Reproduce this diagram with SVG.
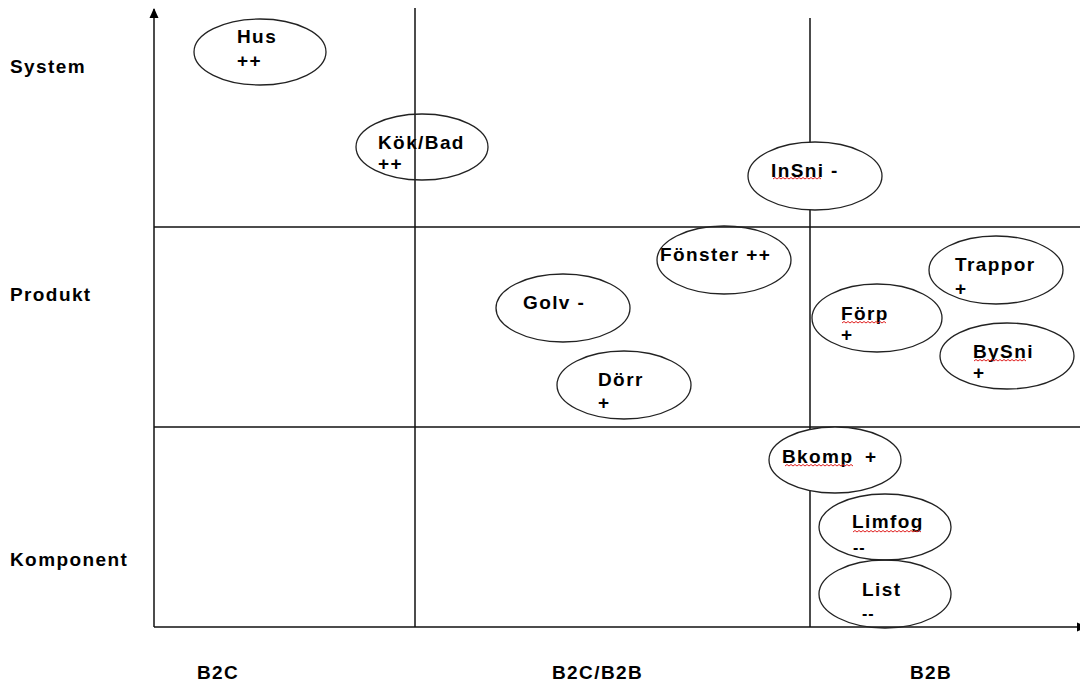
<svg xmlns="http://www.w3.org/2000/svg" width="1080" height="684" viewBox="0 0 1080 684">
<style>
  .ln { stroke:#111; stroke-width:1.5; fill:none; }
  .el { stroke:#222; stroke-width:1.3; fill:none; }
  .elw { stroke:#222; stroke-width:1.3; fill:#fff; }
  text { font-family:"Liberation Sans", Arial, sans-serif; font-weight:bold; font-size:19px; letter-spacing:1.4px; fill:#000; }
  .sm { font-size:16px; letter-spacing:1px; }
  .sq { stroke:#e02020; stroke-width:1; fill:none; }
</style>
<defs>
  <marker id="arr" markerWidth="10" markerHeight="10" refX="9" refY="5" orient="auto" markerUnits="userSpaceOnUse">
    <path d="M0,0.5 L10,5 L0,9.5 Z" fill="#000"/>
  </marker>
</defs>
<g id="axes">
  <line class="ln" x1="154" y1="627" x2="154" y2="9" marker-end="url(#arr)"/>
  <line class="ln" x1="154" y1="627" x2="1086" y2="627" marker-end="url(#arr)"/>
  <line class="ln" x1="415" y1="8" x2="415" y2="627"/>
  <line class="ln" x1="810" y1="18" x2="810" y2="627"/>
  <line class="ln" x1="154" y1="227" x2="1080" y2="227"/>
  <line class="ln" x1="154" y1="427" x2="1080" y2="427"/>
</g>
<g id="axis-labels">
  <text x="10" y="73">System</text>
  <text x="10" y="301">Produkt</text>
  <text x="10" y="566">Komponent</text>
  <text x="197" y="679">B2C</text>
  <text x="552" y="679">B2C/B2B</text>
  <text x="910" y="679">B2B</text>
</g>
<g id="node-hus">
  <ellipse class="el" cx="260" cy="52" rx="66" ry="33"/>
  <text x="237" y="43">Hus</text>
  <text x="237" y="67">++</text>
</g>
<g id="node-kokbad">
  <ellipse class="el" cx="422" cy="147" rx="66" ry="33"/>
  <text x="378" y="149">Kök/Bad</text>
  <text x="378" y="170">++</text>
</g>
<g id="node-insni">
  <ellipse class="elw" cx="815" cy="176" rx="67" ry="34"/>
  <text x="771" y="177">InSni -</text>
  <path class="sq" d="M773,179 l2,-1.5 l2,1.5 l2,-1.5 l2,1.5 l2,-1.5 l2,1.5 l2,-1.5 l2,1.5 l2,-1.5 l2,1.5 l2,-1.5 l2,1.5 l2,-1.5 l2,1.5 l2,-1.5 l2,1.5 l2,-1.5 l2,1.5 l2,-1.5 l2,1.5 l2,-1.5 l2,1.5 l2,-1.5 l2,1.5"/>
</g>
<g id="node-fonster">
  <ellipse class="el" cx="724" cy="260" rx="67" ry="34"/>
  <text x="660" y="261">Fönster ++</text>
</g>
<g id="node-trappor">
  <ellipse class="el" cx="996" cy="270" rx="67" ry="34"/>
  <text x="955" y="271">Trappor</text>
  <text x="955" y="295">+</text>
</g>
<g id="node-forp">
  <ellipse class="el" cx="877" cy="318" rx="65" ry="34"/>
  <text x="841" y="320">Förp</text>
  <path class="sq" d="M842,323 l2,-1.5 l2,1.5 l2,-1.5 l2,1.5 l2,-1.5 l2,1.5 l2,-1.5 l2,1.5 l2,-1.5 l2,1.5 l2,-1.5 l2,1.5 l2,-1.5 l2,1.5 l2,-1.5 l2,1.5 l2,-1.5 l2,1.5 l2,-1.5 l2,1.5 l2,-1.5 l2,1.5"/>
  <text x="841" y="341">+</text>
</g>
<g id="node-bysni">
  <ellipse class="el" cx="1007" cy="356" rx="67" ry="33"/>
  <text x="973" y="358">BySni</text>
  <path class="sq" d="M974,361 l2,-1.5 l2,1.5 l2,-1.5 l2,1.5 l2,-1.5 l2,1.5 l2,-1.5 l2,1.5 l2,-1.5 l2,1.5 l2,-1.5 l2,1.5 l2,-1.5 l2,1.5 l2,-1.5 l2,1.5 l2,-1.5 l2,1.5 l2,-1.5 l2,1.5 l2,-1.5 l2,1.5 l2,-1.5 l2,1.5 l2,-1.5 l2,1.5"/>
  <text x="973" y="379">+</text>
</g>
<g id="node-golv">
  <ellipse class="el" cx="563" cy="308" rx="67" ry="34"/>
  <text x="523" y="309">Golv -</text>
</g>
<g id="node-dorr">
  <ellipse class="el" cx="624" cy="385" rx="67" ry="34"/>
  <text x="598" y="386">Dörr</text>
  <text x="598" y="409">+</text>
</g>
<g id="node-bkomp">
  <ellipse class="elw" cx="835" cy="460" rx="66" ry="33"/>
  <text x="782" y="463">Bkomp</text>
  <text x="865" y="463">+</text>
  <path class="sq" d="M785,466 l2,-1.5 l2,1.5 l2,-1.5 l2,1.5 l2,-1.5 l2,1.5 l2,-1.5 l2,1.5 l2,-1.5 l2,1.5 l2,-1.5 l2,1.5 l2,-1.5 l2,1.5 l2,-1.5 l2,1.5 l2,-1.5 l2,1.5 l2,-1.5 l2,1.5 l2,-1.5 l2,1.5 l2,-1.5 l2,1.5 l2,-1.5 l2,1.5 l2,-1.5 l2,1.5 l2,-1.5 l2,1.5 l2,-1.5 l2,1.5 l2,-1.5 l2,1.5"/>
</g>
<g id="node-limfog">
  <ellipse class="el" cx="885" cy="527" rx="66" ry="33"/>
  <text x="852" y="528">Limfog</text>
  <path class="sq" d="M853,532 l2,-1.5 l2,1.5 l2,-1.5 l2,1.5 l2,-1.5 l2,1.5 l2,-1.5 l2,1.5 l2,-1.5 l2,1.5 l2,-1.5 l2,1.5 l2,-1.5 l2,1.5 l2,-1.5 l2,1.5 l2,-1.5 l2,1.5 l2,-1.5 l2,1.5 l2,-1.5 l2,1.5 l2,-1.5 l2,1.5 l2,-1.5 l2,1.5 l2,-1.5 l2,1.5 l2,-1.5 l2,1.5 l2,-1.5 l2,1.5 l2,-1.5 l2,1.5"/>
  <text class="sm" x="853" y="553">--</text>
</g>
<g id="node-list">
  <ellipse class="el" cx="885" cy="594" rx="66" ry="34"/>
  <text x="862" y="596">List</text>
  <text class="sm" x="862" y="619">--</text>
</g>
</svg>
